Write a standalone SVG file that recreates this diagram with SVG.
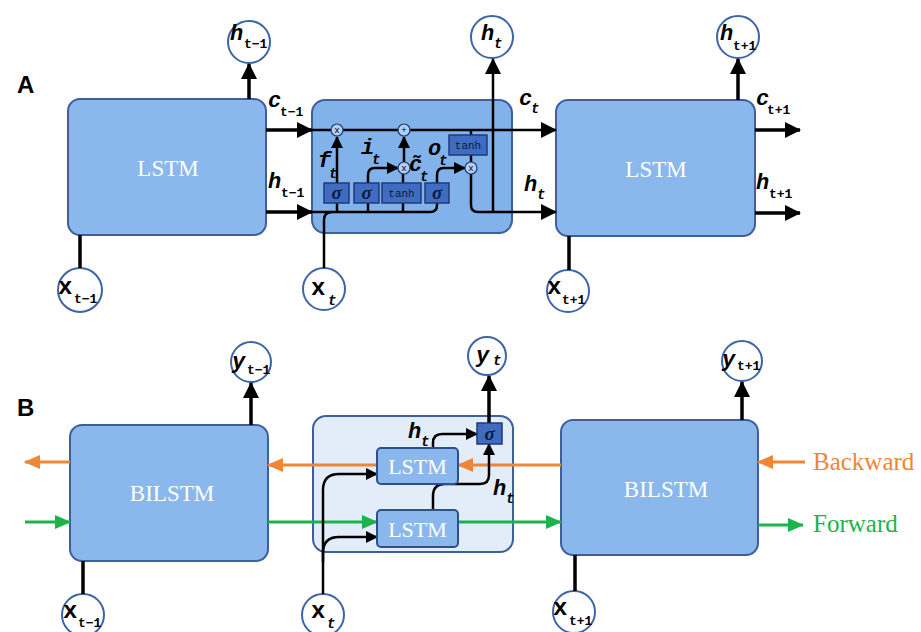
<svg xmlns="http://www.w3.org/2000/svg" width="921" height="632" viewBox="0 0 921 632">
<defs>
<style>
.blk{fill:#8bb8ec;stroke:#3d5f9e;stroke-width:2}
.mid{fill:#82b2ea;stroke:#3d5f9e;stroke-width:2}
.midb{fill:#e3ecf9;stroke:#3d5f9e;stroke-width:2}
.inner{fill:#8bb8ec;stroke:#2f4f8c;stroke-width:2}
.gate{fill:#3f6cc1;stroke:#1f3b78;stroke-width:1.5}
.circ{fill:#fff;stroke:#3d64a6;stroke-width:2}
.op{fill:#b4cff2;stroke:#1f3b78;stroke-width:1.2}
.ln{fill:none;stroke:#000;stroke-width:3.5}
.lt{fill:none;stroke:#000;stroke-width:2.5}
.or{fill:none;stroke:#ee8636;stroke-width:3}
.gr{fill:none;stroke:#1db34c;stroke-width:3}
.big{font-family:"Liberation Serif",serif;fill:#fff;text-anchor:middle}
.v{font-family:"Liberation Mono",monospace;font-weight:bold;font-style:italic;font-size:22px;fill:#000}
.vx{font-family:"Liberation Mono",monospace;font-weight:bold;font-size:24px;fill:#000}
.s{font-family:"Liberation Mono",monospace;font-weight:bold;font-size:13px;fill:#000}
.si{font-family:"Liberation Mono",monospace;font-weight:bold;font-style:italic;font-size:14px;fill:#000}
.gt{font-family:"Liberation Serif",serif;font-style:italic;font-weight:bold;font-size:19px;fill:#0b1a3a;text-anchor:middle}
.tt{font-family:"Liberation Mono",monospace;font-size:11px;fill:#0b1a3a;text-anchor:middle}
.sm{font-family:"Liberation Mono",monospace;font-size:9px;fill:#000;text-anchor:middle}
.lab{font-family:"Liberation Sans",sans-serif;font-weight:bold;font-size:24px;fill:#000}
</style>
<marker id="ah" markerUnits="userSpaceOnUse" markerWidth="16" markerHeight="16" refX="15" refY="8" orient="auto"><path d="M0,0 L16,8 L0,16 z" fill="#000"/></marker>
<marker id="as" markerUnits="userSpaceOnUse" markerWidth="12" markerHeight="12" refX="11" refY="6" orient="auto"><path d="M0,0 L12,6 L0,12 z" fill="#000"/></marker>
<marker id="ao" markerUnits="userSpaceOnUse" markerWidth="16" markerHeight="14" refX="15" refY="7" orient="auto"><path d="M0,0 L16,7 L0,14 z" fill="#ee8636"/></marker>
<marker id="ag" markerUnits="userSpaceOnUse" markerWidth="16" markerHeight="14" refX="15" refY="7" orient="auto"><path d="M0,0 L16,7 L0,14 z" fill="#1db34c"/></marker>
</defs>

<text class="lab" x="17" y="93">A</text>
<text class="lab" x="17" y="416">B</text>

<!-- Part A nodes -->
<g id="lstm-left"><rect class="blk" x="68" y="99" width="198" height="136" rx="12"/><text class="big" x="168" y="176" font-size="23">LSTM</text></g>
<g id="lstm-mid"><rect class="mid" x="312" y="100" width="200" height="133" rx="13"/></g>
<g id="lstm-right"><rect class="blk" x="556" y="100" width="199" height="136" rx="12"/><text class="big" x="656" y="177" font-size="23">LSTM</text></g>

<g id="c-ht-1"><circle class="circ" cx="249" cy="42" r="21"/><text class="v" x="230" y="40">h</text><text class="s" x="244" y="48">t−1</text></g>
<g id="c-ht"><circle class="circ" cx="492" cy="37" r="21"/><text class="v" x="481" y="40">h</text><text class="si" x="494" y="48">t</text></g>
<g id="c-ht1"><circle class="circ" cx="738" cy="37" r="21"/><text class="v" x="720" y="40">h</text><text class="s" x="733" y="50">t+1</text></g>
<g id="c-xt-1"><circle class="circ" cx="80" cy="290" r="22"/><text class="vx" x="58" y="294">x</text><text class="s" x="74" y="303">t−1</text></g>
<g id="c-xt"><circle class="circ" cx="324" cy="289" r="21"/><text class="vx" x="311" y="295">x</text><text class="si" x="328" y="305">t</text></g>
<g id="c-xt1"><circle class="circ" cx="568" cy="291" r="21"/><text class="vx" x="547" y="294">x</text><text class="s" x="562" y="304">t+1</text></g>

<!-- Part B nodes -->
<g id="bilstm-left"><rect class="blk" x="70" y="425" width="198" height="136" rx="12"/><text class="big" x="172" y="501" font-size="23">BILSTM</text></g>
<g id="bilstm-mid"><rect class="midb" x="313" y="416" width="200" height="136" rx="13"/></g>
<g id="bilstm-right"><rect class="blk" x="561" y="420" width="197" height="135" rx="12"/><text class="big" x="666" y="497" font-size="23">BILSTM</text></g>

<g id="c-yt-1"><circle class="circ" cx="251" cy="362" r="20"/><text class="v" x="232" y="368">y</text><text class="s" x="247" y="374">t−1</text></g>
<g id="c-yt"><circle class="circ" cx="487" cy="356" r="19"/><text class="v" x="476" y="362">y</text><text class="si" x="493" y="365">t</text></g>
<g id="c-yt1"><circle class="circ" cx="742" cy="361" r="20"/><text class="v" x="722" y="366">y</text><text class="s" x="737" y="370">t+1</text></g>
<g id="c-bxt-1"><circle class="circ" cx="83" cy="615" r="21"/><text class="vx" x="63" y="618">x</text><text class="s" x="78" y="627">t−1</text></g>
<g id="c-bxt"><circle class="circ" cx="323" cy="615" r="21"/><text class="vx" x="311" y="618">x</text><text class="si" x="327" y="628">t</text></g>
<g id="c-bxt1"><circle class="circ" cx="574" cy="612" r="21"/><text class="vx" x="553" y="615">x</text><text class="s" x="569" y="625">t+1</text></g>

<!-- connectors -->
<g id="connectors">
<!-- A -->
<line class="ln" x1="249" y1="99" x2="249" y2="64" marker-end="url(#ah)"/>
<line class="ln" x1="738" y1="100" x2="738" y2="59" marker-end="url(#ah)"/>
<line class="ln" x1="266" y1="130" x2="312" y2="130" marker-end="url(#ah)"/>
<line class="ln" x1="266" y1="212" x2="312" y2="212" marker-end="url(#ah)"/>
<line class="lt" x1="312" y1="130" x2="556" y2="130" marker-end="url(#ah)"/>
<path class="lt" d="M312,212 L430,212 Q437,212 437,205 L437,203"/>
<path class="lt" d="M324,268 L324,220 Q324,212 332,212"/>
<line class="ln" x1="80" y1="235" x2="80" y2="268"/>
<line class="ln" x1="569" y1="236" x2="569" y2="270"/>
<line class="lt" x1="337" y1="212" x2="337" y2="203"/>
<line class="lt" x1="368" y1="212" x2="368" y2="203"/>
<line class="lt" x1="403" y1="212" x2="403" y2="203"/>
<line class="lt" x1="337" y1="183" x2="337" y2="137" marker-end="url(#as)"/>
<path class="lt" d="M368,183 L368,175 Q368,168 375,168 L398,168" marker-end="url(#as)"/>
<line class="lt" x1="403" y1="183" x2="403" y2="174"/>
<line class="lt" x1="404" y1="162" x2="404" y2="137" marker-end="url(#as)"/>
<path class="lt" d="M437,183 L437,175 Q437,168 444,168 L465,168" marker-end="url(#as)"/>
<line class="lt" x1="471" y1="130" x2="471" y2="135"/>
<line class="lt" x1="471" y1="155" x2="471" y2="162"/>
<path class="lt" d="M471,174 L471,205 Q471,212 478,212 L556,212" marker-end="url(#ah)"/>
<line class="lt" x1="493" y1="212" x2="493" y2="59" marker-end="url(#ah)"/>
<line class="ln" x1="755" y1="130" x2="800" y2="130" marker-end="url(#ah)"/>
<line class="ln" x1="755" y1="213" x2="800" y2="213" marker-end="url(#ah)"/>
<!-- B -->
<line class="ln" x1="251" y1="425" x2="251" y2="383" marker-end="url(#ah)"/>
<line class="ln" x1="742" y1="420" x2="742" y2="382" marker-end="url(#ah)"/>
<line class="ln" x1="489" y1="423" x2="489" y2="376" marker-end="url(#ah)"/>
<line class="or" x1="561" y1="465" x2="458" y2="465" marker-end="url(#ao)"/>
<line class="or" x1="377" y1="465" x2="268" y2="465" marker-end="url(#ao)"/>
<line class="or" x1="70" y1="462" x2="25" y2="462" marker-end="url(#ao)"/>
<line class="or" x1="805" y1="462" x2="758" y2="462" marker-end="url(#ao)"/>
<line class="gr" x1="25" y1="522" x2="70" y2="522" marker-end="url(#ag)"/>
<line class="gr" x1="268" y1="522" x2="377" y2="522" marker-end="url(#ag)"/>
<line class="gr" x1="458" y1="522" x2="561" y2="522" marker-end="url(#ag)"/>
<line class="gr" x1="758" y1="525" x2="803" y2="525" marker-end="url(#ag)"/>
<path class="lt" d="M433,448 L433,443 Q433,434 442,434 L477,434" marker-end="url(#as)"/>
<path class="lt" d="M433,510 L433,496 Q433,484 445,484 L480,484 Q489,484 489,475 L489,444" marker-end="url(#as)"/>
<path class="lt" d="M323,594 L323,490 Q323,474 339,474 L377,474" marker-end="url(#as)"/>
<path class="lt" d="M323,562 L323,553 Q323,537 339,537 L377,537" marker-end="url(#as)"/>
<line class="ln" x1="83" y1="561" x2="83" y2="594"/>
<line class="ln" x1="575" y1="555" x2="575" y2="591"/>
</g>

<!-- gates inside middle LSTM -->
<g id="gate-f"><rect class="gate" x="324" y="183" width="25" height="20"/><text class="gt" x="336.5" y="199">σ</text></g>
<g id="gate-i"><rect class="gate" x="354" y="183" width="25" height="20"/><text class="gt" x="366.5" y="199">σ</text></g>
<g id="gate-c"><rect class="gate" x="382" y="183" width="39" height="20"/><text class="tt" x="401.5" y="197">tanh</text></g>
<g id="gate-o"><rect class="gate" x="425" y="183" width="24" height="20"/><text class="gt" x="437" y="199">σ</text></g>
<g id="gate-tanh2"><rect class="gate" x="449" y="135" width="38" height="20"/><text class="tt" x="468" y="149">tanh</text></g>
<g id="op-mul1"><circle class="op" cx="337" cy="130" r="6"/><text class="sm" x="337" y="133">x</text></g>
<g id="op-add"><circle class="op" cx="404" cy="130" r="6"/><text class="sm" x="404" y="133">+</text></g>
<g id="op-mul2"><circle class="op" cx="404" cy="168" r="6"/><text class="sm" x="404" y="171">x</text></g>
<g id="op-mul3"><circle class="op" cx="471" cy="168" r="6"/><text class="sm" x="471" y="171">x</text></g>
<g id="gate-labels">
<text class="v" x="318" y="167" font-size="16">f</text><text class="si" x="329" y="178" font-size="10">t</text>
<text class="v" x="361" y="154" font-size="16">i</text><text class="si" x="372" y="164" font-size="10">t</text>
<text class="v" x="409" y="171" font-size="15">c̃</text><text class="si" x="420" y="181" font-size="10">t</text>
<text class="v" x="428" y="155" font-size="16">o</text><text class="si" x="439" y="165" font-size="10">t</text>
</g>

<!-- outer labels A -->
<text class="v" x="268" y="107">c</text><text class="s" x="280" y="116">t−1</text>
<text class="v" x="268" y="188">h</text><text class="s" x="281" y="197">t−1</text>
<text class="v" x="519" y="105">c</text><text class="si" x="531" y="113">t</text>
<text class="v" x="524" y="191">h</text><text class="si" x="537" y="199">t</text>
<text class="v" x="756" y="105">c</text><text class="s" x="767" y="114">t+1</text>
<text class="v" x="756" y="189">h</text><text class="s" x="769" y="198">t+1</text>

<!-- Part B inner -->
<g id="inner-lstm-b"><rect class="inner" x="377" y="448" width="81" height="36" rx="4"/><text class="big" x="417.5" y="474" font-size="22">LSTM</text></g>
<g id="inner-lstm-f"><rect class="inner" x="377" y="510" width="81" height="37" rx="4"/><text class="big" x="417.5" y="537" font-size="22">LSTM</text></g>
<g id="sigma-b"><rect class="gate" x="477" y="423" width="25" height="21"/><text class="gt" x="489.5" y="440">σ</text></g>
<text class="v" x="408" y="438">h</text><text class="si" x="421" y="446">t</text>
<text class="v" x="493" y="495">h</text><text class="si" x="506" y="503">t</text>
<text x="813" y="470" font-family="Liberation Serif, serif" font-size="25" fill="#ee8636">Backward</text>
<text x="813" y="532" font-family="Liberation Serif, serif" font-size="25" fill="#1db34c">Forward</text>
</svg>
